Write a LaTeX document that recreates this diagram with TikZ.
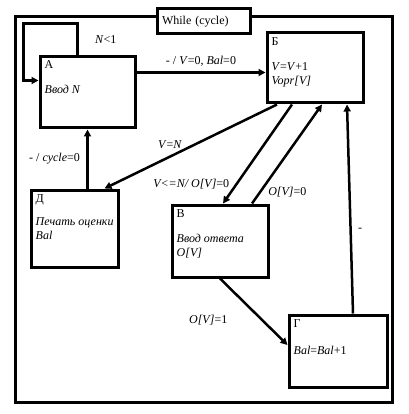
\documentclass[tikz,border=0pt]{standalone}
\usepackage{fontspec}
\setmainfont{Liberation Serif}
\usetikzlibrary{arrows.meta, positioning, calc}

\begin{document}
\begin{tikzpicture}[>={Triangle[length=7pt,width=7pt]}, x=1pt, y=-1pt,
  every node/.style={font=\fontsize{12}{14}\selectfont},
  state/.style={draw, line width=3pt, fill=white, inner sep=0pt},
  txt/.style={anchor=north west, align=left, inner sep=0pt},
  trans/.style={->, line width=2.5pt}]
  \useasboundingbox (0,0) rectangle (408,414);

  % outer frame of the cycle
  \draw[line width=3pt] (15,17) rectangle (392,402);
  \node[state, text width=83pt, inner xsep=5pt, minimum height=25pt, align=left] (W) at (203.5,21.5) {While (cycle)};

  % states
  \node[state, minimum width=95pt, minimum height=71pt] (A) at (87.5,92.5) {};
  \node[txt] (At) at ($(A.north west)+(6,5)$) {А\\[11pt]\textit{Ввод N}};

  \node[state, minimum width=96pt, minimum height=70pt] (B) at (315,68) {};
  \node[txt] (Bt) at ($(B.north west)+(6,6)$) {Б\\[11pt]\textit{V}=\textit{V}+1\\\textit{Vopr[V]}};

  \node[state, minimum width=87pt, minimum height=77pt] (D) at (74.5,228.5) {};
  \node[txt] (Dt) at ($(D.north west)+(6,6)$) {Д\\[9pt]\textit{Печать оценки}\\\textit{Bal}};

  \node[state, minimum width=96pt, minimum height=72pt] (V) at (220,241) {};
  \node[txt] (Vt) at ($(V.north west)+(6,6)$) {В\\[11pt]\textit{Ввод ответа}\\ \textit{O[V]}};

  \node[state, minimum width=98pt, minimum height=72pt] (G) at (338,351) {};
  \node[txt] (Gt) at ($(G.north west)+(6,6)$) {Г\\[13pt]\textit{Bal}=\textit{Bal}+1};

  % transitions
  % A -> A (N<1)
  \draw[trans] ([xshift=-10pt]A.north) -- ++(0,-32)
    node[pos=0.5, right=13pt] {\textit{N}<1}
    -- ++(-54,0) |- ([yshift=12pt]A.west);

  % A -> B
  \draw[trans] ([yshift=20pt]A.east) -- ([yshift=20pt]A.east -| B.west)
    node[pos=0.5, above=2pt] {- / \textit{V}=0, \textit{Bal}=0};

  % B -> D
  \draw[trans] ([xshift=-38pt]B.south) -- ([xshift=30pt]D.north)
    node[pos=0.62, above=3pt] {\textit{V}=\textit{N}};

  % B -> V
  \draw[trans] ([xshift=-23pt]B.south) -- ([xshift=3pt]V.north)
    node[pos=0.8, left=3pt] {\textit{V<=N/ O[V]}=0};

  % V -> B
  \draw[trans] ([xshift=32pt]V.north) -- ([xshift=7pt]B.south)
    node[pos=0.11, right=4pt] {\textit{O[V]}=0};

  % V -> G
  \draw[trans] (V.south) -- ([yshift=6pt]G.west)
    node[pos=0.62, left=30pt] {\textit{O[V]}=1};

  % G -> B
  \draw[trans] ([xshift=15pt]G.north) -- ([xshift=32pt]B.south)
    node[pos=0.4, right=3pt] {-};

  % D -> A
  \draw[trans] (D.north -| A.south) -- (A.south)
    node[midway, left=3pt] {- / \textit{cycle}=0};

\end{tikzpicture}
\end{document}
